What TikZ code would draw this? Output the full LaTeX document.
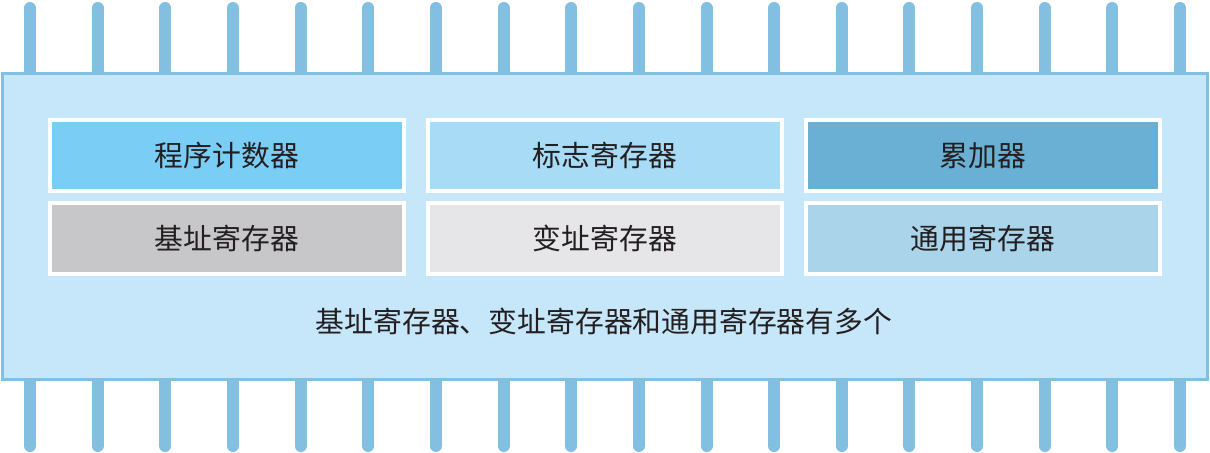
\documentclass[tikz,border=0pt]{standalone}
\usepackage{fontspec}
\newfontfamily\cjk{Noto Sans CJK SC}
\usepackage{tikz}
\definecolor{pinblue}{HTML}{82BFE0}
\definecolor{chipfill}{HTML}{C6E6F9}
\definecolor{pcfill}{HTML}{7ACDF4}
\definecolor{flagfill}{HTML}{A8DCF6}
\definecolor{accfill}{HTML}{6AB0D5}
\definecolor{basefill}{HTML}{C7C7C9}
\definecolor{idxfill}{HTML}{E6E6E8}
\definecolor{genfill}{HTML}{A9D4EA}
\definecolor{inkc}{HTML}{231F20}

\begin{document}
\begin{tikzpicture}[x=0.025cm,y=-0.025cm,
    reg/.style={draw=white,line width=0.1cm,minimum width=8.85cm,minimum height=1.775cm,
      inner sep=0pt,text=inkc,font=\cjk\fontsize{20.5}{24}\selectfont},
    pin/.style={pinblue,line width=0.3cm,line cap=round}]
  \useasboundingbox (0,0) rectangle (1210,453);
  % pins above and below the chip
  \foreach \i in {0,...,17} {
    \draw[pin] ({30+67.65*\i},8) -- ({30+67.65*\i},80);
    \draw[pin] ({30+67.65*\i},372) -- ({30+67.65*\i},446);
  }
  \draw[draw=pinblue,fill=chipfill,line width=0.075cm] (2.5,73.5) rectangle (1207,379);
  \node[reg,fill=pcfill] (pc) at (227,155.5) {程序计数器};
  \node[reg,fill=flagfill] (flag) at (605,155.5) {标志寄存器};
  \node[reg,fill=accfill] (acc) at (983,155.5) {累加器};
  \node[reg,fill=basefill] (base) at (227,238.5) {基址寄存器};
  \node[reg,fill=idxfill] (idx) at (605,238.5) {变址寄存器};
  \node[reg,fill=genfill] (gen) at (983,238.5) {通用寄存器};
  \node[text=inkc,font=\cjk\fontsize{20.5}{24}\selectfont] (note) at (604,321) {基址寄存器、变址寄存器和通用寄存器有多个};
\end{tikzpicture}
\end{document}
